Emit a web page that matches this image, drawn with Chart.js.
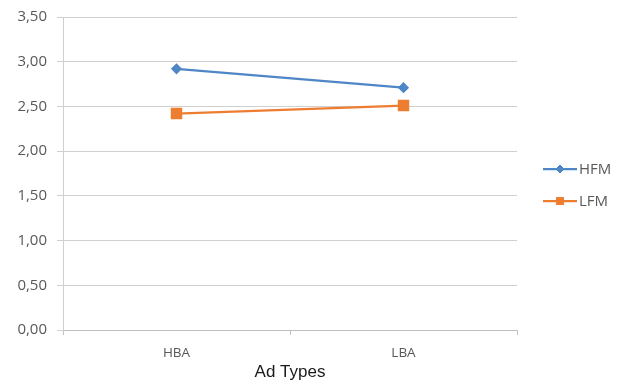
<!DOCTYPE html>
<html>
<head>
<meta charset="utf-8">
<script src="https://cdn.jsdelivr.net/npm/chart.js@4/dist/chart.umd.min.js"></script>
<style>
  html, body { margin: 0; padding: 0; background: #ffffff; }
  #wrap { width: 625px; height: 384px; position: relative; }
</style>
</head>
<body>
<div id="wrap"><canvas id="c" width="625" height="384"></canvas></div>
<script>
// Ad types on the x axis, one line per group
const categories = ['HBA', 'LBA'];
const seriesNames = ['HFM', 'LFM'];
const hfmValues = [2.92, 2.71];
const lfmValues = [2.42, 2.51];
const yTicks = [0, 0.5, 1, 1.5, 2, 2.5, 3, 3.5];

const BLUE = '#4F86C6';
const ORANGE = '#ED7D31';
const LABEL = '#595959';

// Legend drawn to the right of the plot: a short line with the series marker
const lineLegend = {
  id: 'lineLegend',
  afterDraw(chart) {
    const ctx = chart.ctx;
    const area = chart.chartArea;
    const x0 = area.right + 26;
    const rows = [169, 201];
    chart.data.datasets.forEach((ds, i) => {
      const y = rows[i];
      ctx.save();
      ctx.strokeStyle = ds.borderColor;
      ctx.lineWidth = ds.borderWidth;
      ctx.beginPath();
      ctx.moveTo(x0, y);
      ctx.lineTo(x0 + 34, y);
      ctx.stroke();
      ctx.fillStyle = ds.pointBackgroundColor;
      ctx.strokeStyle = ds.pointBorderColor;
      ctx.lineWidth = 1;
      const r = ds.pointStyle === 'rect' ? 5 : ds.pointRadius;
      Chart.helpers.drawPoint(ctx, {pointStyle: ds.pointStyle, radius: r, borderWidth: 1}, x0 + 17, y);
      ctx.fillStyle = LABEL;
      ctx.font = '15px "Open Sans", sans-serif';
      ctx.textBaseline = 'middle';
      ctx.textAlign = 'left';
      ctx.fillText(ds.label, x0 + 36, y + 1);
      ctx.restore();
    });
  }
};

new Chart(document.getElementById('c'), {
  type: 'line',
  data: {
    labels: categories,
    datasets: [
      {
        label: seriesNames[0],
        data: hfmValues,
        borderColor: BLUE,
        backgroundColor: BLUE,
        pointBackgroundColor: BLUE,
        pointBorderColor: BLUE,
        borderWidth: 2.25,
        pointStyle: 'rectRot',
        pointRadius: 4,
        pointHoverRadius: 4,
        tension: 0
      },
      {
        label: seriesNames[1],
        data: lfmValues,
        borderColor: ORANGE,
        backgroundColor: ORANGE,
        pointBackgroundColor: ORANGE,
        pointBorderColor: ORANGE,
        borderWidth: 2.25,
        pointStyle: 'rect',
        pointRadius: 6.5,
        pointHoverRadius: 6.5,
        tension: 0
      }
    ]
  },
  options: {
    responsive: false,
    animation: false,
    devicePixelRatio: 1,
    layout: { padding: { top: 17, right: 108, bottom: 0, left: 0 } },
    plugins: {
      legend: { display: false },
      tooltip: { enabled: false }
    },
    scales: {
      x: {
        offset: true,
        afterFit(scale) { scale.height = 54; },
        grid: {
          display: true,
          offset: true,
          drawOnChartArea: false,
          drawTicks: true,
          tickLength: 5,
          color: '#bfbfbf'
        },
        border: { display: true, color: '#bfbfbf' },
        ticks: {
          color: LABEL,
          padding: 10,
          font: { family: '"Open Sans", sans-serif', size: 13.5 }
        },
        title: {
          display: true,
          text: 'Ad Types',
          color: '#1a1a1a',
          font: { family: '"Liberation Sans", Arial, sans-serif', size: 17 },
          padding: { top: 0, bottom: 1 }
        }
      },
      y: {
        min: 0,
        max: 3.5,
        afterFit(scale) {
          scale.width = 63;
          scale.paddingTop = 0;
          scale.paddingBottom = 0;
        },
        afterBuildTicks(scale) { scale.ticks = yTicks.map(v => ({ value: v })); },
        grid: {
          color: '#d0d0d0',
          drawTicks: true,
          tickLength: 6
        },
        border: { display: true, color: '#cfcfcf' },
        ticks: {
          color: LABEL,
          padding: 10,
          font: { family: '"Open Sans", sans-serif', size: 15 },
          callback: (v) => Number(v).toFixed(2).replace('.', ',')
        }
      }
    }
  },
  plugins: [lineLegend]
});
</script>
</body>
</html>
